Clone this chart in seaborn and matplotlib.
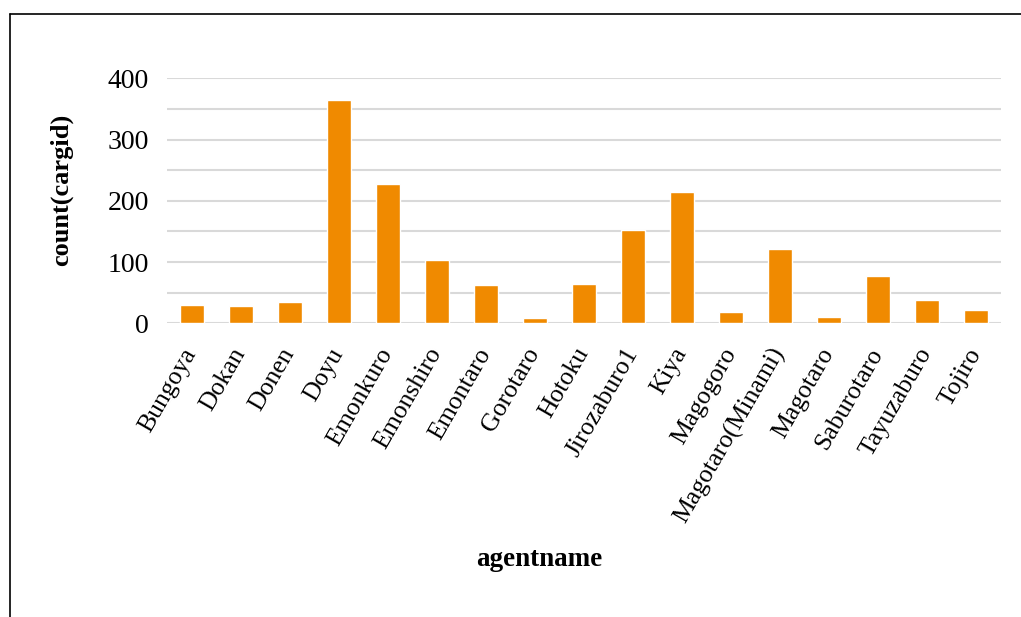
import seaborn as sns
import matplotlib.pyplot as plt
import pandas as pd
from matplotlib.lines import Line2D

# dados
agentes = ["Bungoya", "Dokan", "Donen", "Doyu", "Emonkuro", "Emonshiro", "Emontaro",
           "Gorotaro", "Hotoku", "Jirozaburo1", "Kiya", "Magogoro", "Magotaro(Minami)",
           "Magotaro", "Saburotaro", "Tayuzaburo", "Tojiro"]
contagem = [30, 28, 34, 364, 228, 103, 62, 9, 64, 152, 214, 18, 121, 10, 78, 38, 22]

df = pd.DataFrame({"agentname": agentes, "count(cargid)": contagem})

sns.set_style("white")
plt.rcParams["font.family"] = ["Liberation Serif", "DejaVu Serif"]
plt.rcParams["text.color"] = "black"
plt.rcParams["xtick.color"] = "black"
plt.rcParams["ytick.color"] = "black"
plt.rcParams["axes.labelcolor"] = "black"

fig = plt.figure(figsize=(10.21, 6.17), dpi=100)
ax = fig.add_axes([0.1636, 0.476, 0.8164, 0.397])

sns.barplot(x="agentname", y="count(cargid)", data=df, color="#F08A00",
            width=0.49, saturation=1, ax=ax)

ax.set_ylim(0, 400)
ax.set_yticks([0, 100, 200, 300, 400])
for v in range(50, 401, 50):
    ax.axhline(v, color="#d9d9d9", lw=1.5, zorder=0)
ax.axhline(0, color="#d9d9d9", lw=1.5, zorder=0)
ax.set_xlim(-0.5, len(agentes) - 0.5)
for s in ax.spines.values():
    s.set_visible(False)
ax.tick_params(axis="both", length=0)
ax.tick_params(axis="y", pad=13, labelsize=20)
ax.tick_params(axis="x", pad=19, labelsize=18.5)
plt.setp(ax.get_xticklabels(), rotation=60, ha="right", va="center", rotation_mode="anchor")

ax.set_xlabel("agentname", fontsize=19.5, fontweight="bold")
ax.set_ylabel("count(cargid)", fontsize=19, fontweight="bold")
ax.xaxis.set_label_coords(0.447, -0.915)
ax.yaxis.set_label_coords(-0.113, 0.546)

# moldura do gráfico
fig.add_artist(Line2D([10 / 1021, 10 / 1021], [0, 1 - 14 / 617], color="black", lw=1.2))
fig.add_artist(Line2D([10 / 1021, 1], [1 - 14 / 617, 1 - 14 / 617], color="black", lw=1.2))

plt.savefig("out.png", dpi=100)
